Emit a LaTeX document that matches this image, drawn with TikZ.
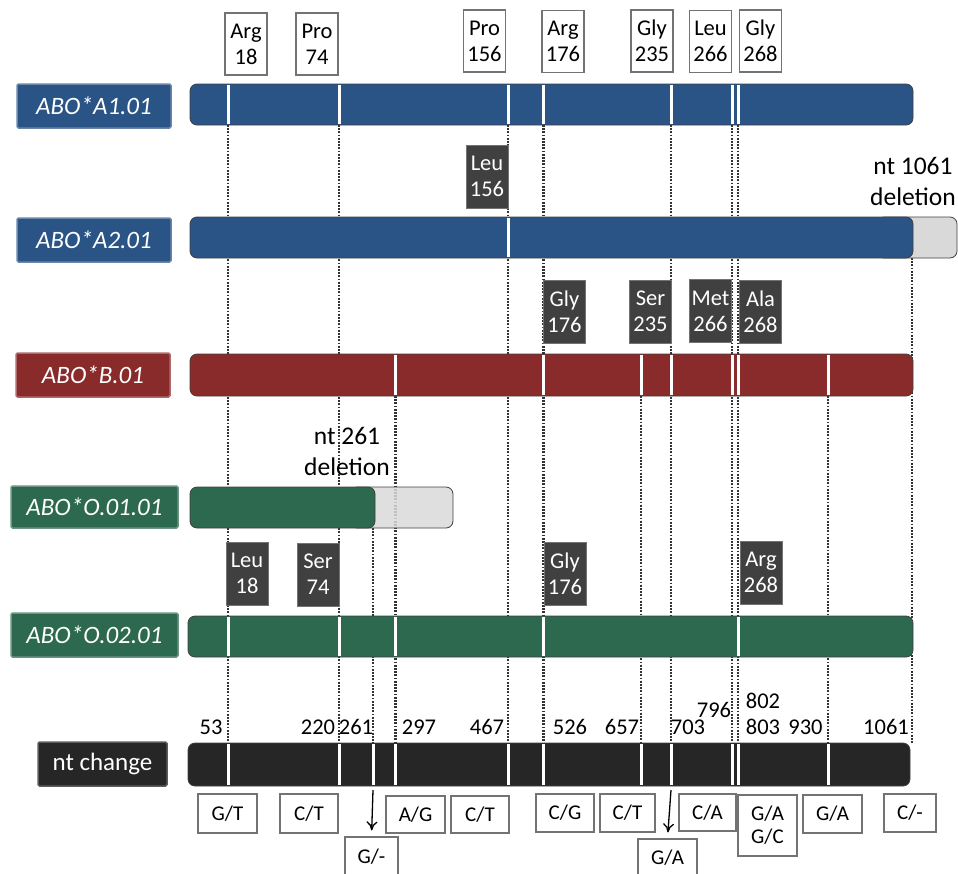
\documentclass[tikz,border=0pt]{standalone}
\usepackage{fontspec}
\setmainfont{Carlito}
\usetikzlibrary{arrows.meta}
\definecolor{blueA}{HTML}{2A5486}
\definecolor{redB}{HTML}{8A2B2B}
\definecolor{greenO}{HTML}{2D694E}
\definecolor{darkN}{HTML}{262626}
\definecolor{greyD}{HTML}{D9D9D9}
\definecolor{boxD}{HTML}{404040}
\tikzset{
  allele/.style={rounded corners=1.5pt, line width=1.5pt, minimum height=44pt, inner sep=0pt, text=white, font=\fontsize{25}{28}\selectfont\itshape},
  bar/.style={rounded corners=7pt, draw=black!75, line width=0.8pt, inner sep=0pt},
  tick/.style={white, line width=3pt},
  guide/.style={draw=black!80, line width=2.2pt, dash pattern=on 1.8pt off 1.4pt},
  wbox/.style={draw=black!55, fill=white, line width=1.2pt, align=center, inner sep=0pt, minimum width=42pt, minimum height=62pt, font=\fontsize{22.5}{26}\selectfont},
  dbox/.style={draw=black!55, fill=boxD, text=white, line width=1pt, align=center, inner sep=0pt, minimum width=42pt, minimum height=63pt, font=\fontsize{22.5}{26}\selectfont},
  nbox/.style={draw=black!55, fill=white, line width=1.2pt, align=center, inner sep=0pt, font=\fontsize{21}{23}\selectfont},
  num/.style={anchor=base, inner sep=0pt, font=\fontsize{22.5}{24}\selectfont},
  delnote/.style={align=center, inner sep=0pt, font=\fontsize{25.5}{31}\selectfont},
  pointer/.style={line width=1.3pt, -{To[length=9pt,width=11pt]}, shorten >=6pt}
}
\begin{document}
\begin{tikzpicture}[x=1pt,y=-1pt]
\useasboundingbox (0,0) rectangle (958,873);

% dotted guide lines
\foreach \xx in {228,339,508,543.5,671,732,738}{\draw[guide] (\xx,125) -- (\xx,743);}
\foreach \xx in {395.5,641,828}{\draw[guide] (\xx,396) -- (\xx,743);}
\draw[guide] (912,258) -- (912,743);
\draw[guide] (373,528) -- (373,743);

% allele labels
\node[allele, fill=blueA, draw=blueA!70!white, minimum width=154pt] (lA1) at (94,106) {ABO*A1.01};
\node[allele, fill=blueA, draw=blueA!70!white, minimum width=154pt] (lA2) at (94,240) {ABO*A2.01};
\node[allele, fill=redB, draw=redB!70!white, minimum width=154pt] (lB) at (93,375) {ABO*B.01};
\node[allele, fill=greenO, draw=greenO!70!white, minimum width=167pt, minimum height=42pt] (lO1) at (94.5,507) {ABO*O.01.01};
\node[allele, fill=greenO, draw=greenO!70!white, minimum width=167pt] (lO2) at (94.5,635) {ABO*O.02.01};
\node[allele, fill=darkN, draw=darkN!75!white, minimum width=129pt, font=\fontsize{25}{28}\selectfont] (lnt) at (102.5,764) {nt change};

% bars
\node[bar, fill=blueA, minimum width=723pt, minimum height=41pt] (bA1) at (551.5,104.5) {};
\node[bar, fill=greyD, minimum width=80pt, minimum height=41pt] (gA2) at (917,237.5) {};
\node[bar, fill=blueA, minimum width=723pt, minimum height=41pt] (bA2) at (551.5,237.5) {};
\node[bar, fill=redB, minimum width=723pt, minimum height=42pt] (bB) at (551.5,375) {};
\node[bar, fill=greyD, fill opacity=0.85, minimum width=103pt, minimum height=41pt] (gO1) at (401.5,507.5) {};
\node[bar, fill=greenO, minimum width=185pt, minimum height=41pt] (bO1) at (282.5,507.5) {};
\node[bar, fill=greenO, minimum width=725pt, minimum height=41pt] (bO2) at (550.5,636.5) {};
\node[bar, fill=darkN, minimum width=722pt, minimum height=43pt] (bnt) at (549,764.5) {};

% white ticks
\foreach \xx in {228,339,508,543.5,671,732,738}{\draw[tick] (\xx,85) -- (\xx,124);}
\draw[tick] (508,218) -- (508,257);
\foreach \xx in {395.5,543.5,641,671,732,738,828}{\draw[tick] (\xx,355) -- (\xx,395);}
\foreach \xx in {228,339,395.5,543.5,738}{\draw[tick] (\xx,617) -- (\xx,656);}
\foreach \xx in {228,339,373,395.5,508,543.5,641,671,732,738,828}{\draw[tick] (\xx,744) -- (\xx,785);}

% A1 amino acids
\node[wbox] (tArg18) at (246,44) {Arg\\18};
\node[wbox] (tPro74) at (317,44) {Pro\\74};
\node[wbox] (tPro156) at (484.5,41) {Pro\\156};
\node[wbox] (tArg176) at (563,41.5) {Arg\\176};
\node[wbox] (tGly235) at (652,41) {Gly\\235};
\node[wbox] (tLeu266) at (710.5,41.5) {Leu\\266};
\node[wbox] (tGly268) at (760.5,41) {Gly\\268};

% substitutions
\node[dbox] (dLeu156) at (487,176.5) {Leu\\156};
\node[dbox] (dGly176) at (564.5,311.5) {Gly\\176};
\node[dbox] (dSer235) at (650.5,311.5) {Ser\\235};
\node[dbox] (dMet266) at (710.5,311) {Met\\266};
\node[dbox] (dAla268) at (760.5,311.5) {Ala\\268};
\node[dbox] (dLeu18) at (247,573.5) {Leu\\18};
\node[dbox] (dSer74) at (318,574.5) {Ser\\74};
\node[dbox] (dGly176b) at (565,574) {Gly\\176};
\node[dbox] (dArg268) at (761,572.5) {Arg\\268};

% deletion notes
\node[delnote] (del1061) at (913,181) {nt 1061\\deletion};
\node[delnote] (del261) at (347,451) {nt 261\\deletion};

% nt numbers
\node[num] (n53) at (211,734) {53};
\node[num] (n220) at (318,734) {220};
\node[num] (n261) at (356,734) {261};
\node[num] (n297) at (419,734) {297};
\node[num] (n467) at (487,734) {467};
\node[num] (n526) at (570,734) {526};
\node[num] (n657) at (622,734) {657};
\node[num] (n703) at (688,734) {703};
\node[num] (n796) at (714,717) {796};
\node[num] (n802) at (763,708) {802};
\node[num] (n803) at (763,734) {803};
\node[num] (n930) at (805.5,734) {930};
\node[num] (n1061) at (886,734) {1061};

% nucleotide change boxes
\node[nbox, minimum width=59pt, minimum height=39pt] (cGT) at (227.5,813.5) {G/T};
\node[nbox, minimum width=58pt, minimum height=39pt] (cCT1) at (309,813.5) {C/T};
\node[nbox, minimum width=53pt, minimum height=40pt] (cGdel) at (371.5,857) {G/-};
\node[nbox, minimum width=59pt, minimum height=37pt] (cAG) at (415.5,814.5) {A/G};
\node[nbox, minimum width=58pt, minimum height=37pt] (cCT2) at (480,814.5) {C/T};
\node[nbox, minimum width=58pt, minimum height=38pt] (cCG) at (565,813) {C/G};
\node[nbox, minimum width=55pt, minimum height=38pt] (cCT3) at (627.5,813) {C/T};
\node[nbox, minimum width=59pt, minimum height=38pt] (cGA1) at (667.5,858) {G/A};
\node[nbox, minimum width=57pt, minimum height=37pt] (cCA) at (707.5,812.5) {C/A};
\node[nbox, minimum width=59pt, minimum height=61pt] (cGAGC) at (767.5,825.5) {G/A\\G/C};
\node[nbox, minimum width=59pt, minimum height=38pt] (cGA2) at (832.5,814) {G/A};
\node[nbox, minimum width=52pt, minimum height=38pt] (cCdel) at (910,813) {C/-};

% pointers
\coordinate (p261) at (373,790);
\coordinate (p703) at (671,790);
\draw[pointer] (p261) -- (cGdel.north);
\draw[pointer] (p703) -- (cGA1.north);
\end{tikzpicture}
\end{document}
